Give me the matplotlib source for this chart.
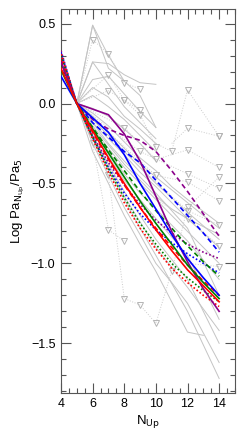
import matplotlib
matplotlib.use("Agg")
import matplotlib.pyplot as plt
from matplotlib.ticker import MultipleLocator

plt.rcParams['font.family'] = ['Liberation Sans', 'DejaVu Sans']

## Modeles (N_up = 4..14)
n_model = [4, 5, 6, 7, 8, 9, 10, 11, 12, 13, 14]

red_solid = [0.22, 0.0, -0.17, -0.34, -0.50, -0.65, -0.79, -0.92, -1.04, -1.14, -1.24]
red_dash = [0.27, 0.0, -0.18, -0.35, -0.51, -0.65, -0.78, -0.90, -1.01, -1.11, -1.20]
red_dot = [0.31, 0.0, -0.22, -0.43, -0.62, -0.78, -0.91, -1.03, -1.12, -1.20, -1.27]

green_solid = [0.21, 0.0, -0.16, -0.31, -0.46, -0.61, -0.75, -0.88, -1.01, -1.12, -1.22]
green_dash = [0.25, 0.0, -0.15, -0.29, -0.42, -0.55, -0.67, -0.78, -0.89, -0.99, -1.08]
green_dot = [0.30, 0.0, -0.21, -0.41, -0.59, -0.75, -0.88, -1.00, -1.09, -1.17, -1.24]

blue_solid = [0.17, 0.0, -0.09, -0.18, -0.32, -0.50, -0.66, -0.82, -0.97, -1.09, -1.20]
blue_dash = [0.26, 0.0, -0.12, -0.21, -0.30, -0.37, -0.48, -0.59, -0.70, -0.81, -0.93]
blue_dot = [0.32, 0.0, -0.21, -0.40, -0.56, -0.69, -0.79, -0.87, -0.94, -1.00, -1.06]

purple_solid = [0.26, 0.0, -0.035, -0.07, -0.19, -0.36, -0.58, -0.80, -0.99, -1.16, -1.30]
purple_dash = [0.28, 0.0, -0.10, -0.16, -0.20, -0.23, -0.30, -0.42, -0.55, -0.69, -0.83]
purple_dot = [0.33, 0.0, -0.20, -0.37, -0.51, -0.63, -0.73, -0.81, -0.88, -0.93, -0.97]

## Observations (lignes grises pleines)
obs_x = [
    [5, 6, 7, 8],
    [5, 6, 7, 8, 9, 10],
    [5, 6, 7, 8, 9, 10],
    [5, 6, 7, 8, 9, 10],
    [5, 6, 7, 8, 9, 10],
    [5, 6, 7, 8, 9, 10],
    [5, 6, 7, 8, 9, 10],
    [5, 6, 7, 8, 9, 10],
    [5, 6, 7, 8, 9, 10, 12, 14],
    [5, 6, 7, 8, 9, 10, 12, 14],
    [5, 6, 7, 8, 9, 10, 12, 14],
    [5, 6, 7, 8, 9, 10, 12, 14],
    [5, 6, 7, 8, 9, 10, 12, 14],
    [5, 6, 7, 8, 9, 10, 12, 14],
    [5, 6, 7, 8, 9, 10, 12, 14],
    [5, 6, 7, 8, 9, 10, 12, 13],
    [5, 6, 7, 8, 9, 10, 11, 12, 14],
    [5, 6, 7, 8, 9, 10, 11, 12, 14],
    [5, 6, 7, 8, 9, 10, 11, 12, 14],
    [5, 6, 7, 8, 9, 10, 12, 14],
    [5, 6, 7, 8, 9, 10, 11, 12, 14],
    [5, 6, 7, 8, 9, 10, 12, 14],
]
obs_y = [
    [0.0, 0.49, 0.22, 0.14],
    [0.0, 0.49, 0.30, 0.14, 0.05, -0.15],
    [0.0, 0.26, 0.25, 0.18, 0.13, 0.12],
    [0.0, 0.26, 0.12, -0.02, -0.12, -0.22],
    [0.0, 0.15, 0.17, 0.06, -0.05, -0.15],
    [0.0, 0.10, 0.04, -0.08, -0.16, -0.25],
    [0.0, 0.05, -0.02, -0.10, -0.20, -0.30],
    [0.0, -0.03, -0.08, -0.16, -0.25, -0.36],
    [0.0, -0.08, -0.18, -0.28, -0.38, -0.46, -0.62, -0.78],
    [0.0, -0.10, -0.20, -0.30, -0.40, -0.50, -0.68, -0.85],
    [0.0, -0.12, -0.22, -0.32, -0.43, -0.52, -0.72, -0.90],
    [0.0, -0.15, -0.28, -0.40, -0.50, -0.60, -0.80, -1.00],
    [0.0, -0.18, -0.33, -0.48, -0.60, -0.72, -0.95, -1.35],
    [0.0, -0.20, -0.38, -0.55, -0.70, -0.85, -1.10, -1.50],
    [0.0, -0.22, -0.42, -0.60, -0.78, -0.95, -1.30, -1.72],
    [0.0, -0.30, -0.50, -0.70, -0.88, -1.05, -1.43, -1.45],
    [0.0, -0.14, -0.26, -0.38, -0.48, -0.58, -0.66, -0.72, -0.82],
    [0.0, -0.16, -0.30, -0.44, -0.56, -0.66, -0.76, -0.86, -1.10],
    [0.0, -0.25, -0.45, -0.65, -0.82, -1.00, -1.12, -1.25, -1.62],
    [0.0, -0.20, -0.40, -0.58, -0.74, -0.90, -1.15, -1.42],
    [0.0, -0.06, -0.14, -0.24, -0.34, -0.42, -0.52, -0.60, -0.75],
    [0.0, -0.12, -0.25, -0.36, -0.46, -0.56, -0.78, -1.20],
]

## Limites superieures (lignes grises pointillees avec triangles)
lim_x = [
    [5, 6, 7, 8, 9],
    [5, 7, 8, 9, 10],
    [5, 7, 8, 9],
    [10, 11, 12, 14],
    [11, 12, 14],
    [5, 6, 7, 8],
    [5, 7, 8, 9, 10, 11, 12, 14],
    [5, 8, 10, 12, 14],
    [5, 9, 12, 14],
    [5, 10, 12, 14],
    [9, 12, 14],
    [10, 12, 14],
    [12, 14],
]
lim_y = [
    [0.0, 0.40, 0.31, 0.13, 0.09],
    [0.0, 0.18, 0.02, -0.07, -0.27],
    [0.0, 0.08, 0.02, -0.04],
    [-0.25, -0.30, 0.085, -0.205],
    [-0.25, -0.155, -0.205],
    [0.0, -0.25, -0.79, -0.86],
    [0.0, -0.45, -1.22, -1.26, -1.375, -1.05, -0.65, -0.46],
    [0.0, -0.15, -0.35, -0.29, -0.40],
    [0.0, -0.30, -0.44, -0.53],
    [0.0, -0.45, -0.49, -0.61],
    [-0.40, -0.67, -0.76],
    [-0.60, -0.72, -0.89],
    [-1.00, -1.02],
]

fig = plt.figure(figsize=(2.45, 4.38), dpi=100)
ax = fig.add_axes([0.249, 0.103, 0.71, 0.876])

for xs, ys in zip(obs_x, obs_y):
    ax.plot(xs, ys, color="#c4c4c4", lw=0.7, zorder=1)

for xs, ys in zip(lim_x, lim_y):
    ax.plot(xs, ys, color="#cccccc", lw=0.7, linestyle=":", zorder=1)
    ax.plot(xs[1:], ys[1:], linestyle="none", marker="v", ms=4.5, mfc="none",
            mec="#b4b4b4", mew=0.7, zorder=2)

dash = (0, (3, 2))
dot = (0, (1, 1.3))
modeles = [
    (purple_dash, "#8b008b", dash), (purple_dot, "#8b008b", dot),
    (blue_dash, "#0000ff", dash), (blue_dot, "#0000ff", dot),
    (green_dash, "#008000", dash), (green_dot, "#008000", dot),
    (red_dash, "#ff0000", dash), (red_dot, "#ff0000", dot),
    (purple_solid, "#8b008b", "-"), (blue_solid, "#0000ff", "-"),
    (green_solid, "#008000", "-"), (red_solid, "#ff0000", "-"),
]
for ys, col, ls in modeles:
    ax.plot(n_model, ys, color=col, linestyle=ls, lw=1.2, zorder=3)

ax.set_xlim(4, 15)
ax.set_ylim(-1.81, 0.59)
ax.xaxis.set_major_locator(MultipleLocator(2))
ax.xaxis.set_minor_locator(MultipleLocator(0.5))
ax.yaxis.set_major_locator(MultipleLocator(0.5))
ax.yaxis.set_minor_locator(MultipleLocator(0.1))
ax.tick_params(which="both", direction="in", top=True, right=True,
               color="#555555", labelsize=9, width=0.8)
ax.tick_params(which="major", length=7, pad=4)
ax.tick_params(which="minor", length=3.5)
for s in ax.spines.values():
    s.set_color("#555555")
    s.set_linewidth(0.8)

ax.set_xlabel(r"N$_{\rm Up}$", fontsize=9.5, labelpad=2)
ax.set_ylabel(r"Log Pa$_{\rm N_{Up}}$/Pa$_5$", fontsize=9.5, labelpad=3)

fig.savefig("out.png", dpi=100)
